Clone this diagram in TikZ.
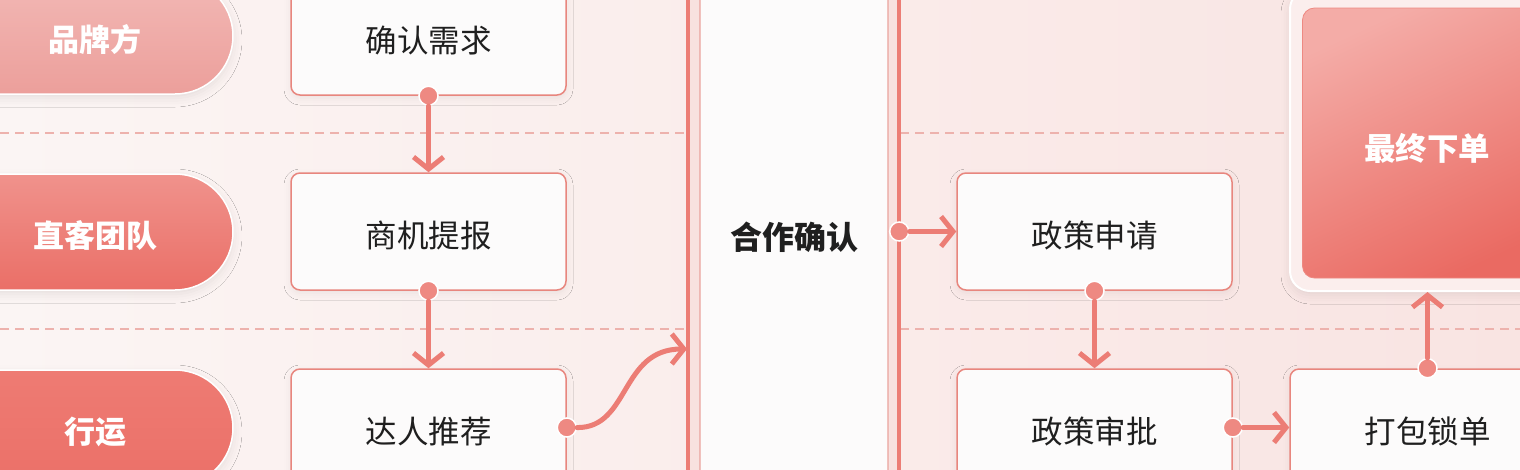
\documentclass[tikz,border=0pt]{standalone}
\usepackage{fontspec}
\setmainfont{Noto Sans CJK SC}
\usetikzlibrary{arrows.meta,shadows.blur,shapes.misc,calc}
\definecolor{bgl}{HTML}{FBF5F4}
\definecolor{bgr}{HTML}{F9E4E2}
\definecolor{boxc}{HTML}{E8867E}
\definecolor{boxc2}{HTML}{EAA29C}
\definecolor{boxf}{HTML}{FCFBFB}
\definecolor{txt}{HTML}{1F1F1F}
\definecolor{dotc}{HTML}{EE8982}
\definecolor{arrc}{HTML}{EC7D75}
\definecolor{sepc}{HTML}{EDB2AD}
\definecolor{framef}{HTML}{F8E1DF}
\definecolor{laneAt}{HTML}{F2B8B5}
\definecolor{laneAb}{HTML}{EC9F9B}
\definecolor{laneBt}{HTML}{F0928C}
\definecolor{laneBb}{HTML}{EA6F67}
\definecolor{laneCt}{HTML}{EE7B73}
\definecolor{laneCb}{HTML}{EB7068}
\definecolor{fint}{HTML}{F4ACA7}
\definecolor{finb}{HTML}{EA6A62}
\definecolor{fouter}{HTML}{FBEEED}
\newcommand{\lowtxt}[2][4pt]{\raisebox{-#1}[\height][\depth]{#2}}
\begin{document}
\begin{tikzpicture}[x=1pt,y=-1pt,
  box/.style={draw=boxc, line width=1.5pt, fill=boxf, rounded corners=9pt,
    minimum width=275pt, minimum height=117pt, inner sep=0pt,
    font=\fontsize{31.5}{36}\selectfont, text=txt,
    blur shadow={shadow xshift=0pt, shadow yshift=-3pt, shadow blur radius=7pt, shadow opacity=6}},
  lane/.style={rounded rectangle, rounded rectangle left arc=none,
    minimum width=274pt, minimum height=116pt, draw=white, line width=1.5pt,
    inner sep=0pt, text=white, font=\bfseries\fontsize{31}{36}\selectfont,
    blur shadow={shadow xshift=0pt, shadow yshift=-4pt, shadow blur radius=9pt, shadow opacity=9}},
  dot/.style={circle, fill=dotc, draw=white, line width=1.5pt, minimum size=19pt, inner sep=0pt},
  arr/.style={draw=arrc, line width=5pt, -{Straight Barb[length=12pt,width=30pt]},
    line cap=round, line join=round},
  lanesep/.style={draw=sepc, line width=1.1pt, dash pattern=on 9pt off 6pt}
]
\useasboundingbox (0,0) rectangle (1520,469);
\clip (0,0) rectangle (1520,469);
\shade[left color=bgl, right color=bgr] (0,0) rectangle (1520,469);

% lane separators
\draw[lanesep] (0,133) -- (1290,133);
\draw[lanesep] (0,329) -- (1520,329);

% lane labels
\node[lane, top color=laneAt, bottom color=laneAb] (L1) at (95,36) {\lowtxt{品牌方}};
\node[lane, top color=laneBt, bottom color=laneBb] (L2) at (95,232) {\lowtxt{直客团队}};
\node[lane, top color=laneCt, bottom color=laneCb] (L3) at (95,428) {\lowtxt{行运}};

% column 1
\node[box] (B1) at (428.5,36.5) {\lowtxt{确认需求}};
\node[box] (B2) at (428.5,231.5) {\lowtxt{商机提报}};
\node[box] (B3) at (428.5,427.5) {\lowtxt{达人推荐}};

% cooperation confirm
\node[fill=framef, minimum width=211pt, minimum height=540pt, inner sep=0pt] (CF) at (793.5,234) {};
\draw[line width=4.5pt, draw=arrc] (CF.north west) -- (CF.south west);
\draw[line width=4.5pt, draw=arrc] (CF.north east) -- (CF.south east);
\node[draw=boxc2, line width=1.2pt, fill=boxf, rounded corners=9pt, minimum width=188pt,
  minimum height=520pt, inner sep=0pt, text=txt, font=\bfseries\fontsize{32}{36}\selectfont] (C) at (794,233) {\lowtxt{合作确认}};
\coordinate (Cin) at (687,349);

% policy column
\node[box] (P1) at (1094.5,231.5) {\lowtxt{政策申请}};
\node[box] (P2) at (1094.5,427.5) {\lowtxt{政策审批}};

% final
\node[fill=fouter, draw=white, line width=2pt, rounded corners=20pt, minimum width=275pt,
  minimum height=302pt, inner sep=0pt,
  blur shadow={shadow xshift=0pt, shadow yshift=-4pt, shadow blur radius=9pt, shadow opacity=9}] (FO) at (1427.5,140) {};
\node[rounded corners=12pt, minimum width=249pt, minimum height=270pt, inner sep=0pt,
  top color=fint, bottom color=finb, shading angle=25, draw=dotc, line width=0.8pt, text=white,
  font=\bfseries\fontsize{31.5}{36}\selectfont] (F) at (1427,143) {\lowtxt[5pt]{最终下单}};
\node[box] (D) at (1427.5,427.5) {\lowtxt{打包锁单}};

% dots
\node[dot] (d1) at (B1.south) {};
\node[dot] (d2) at (B2.south) {};
\node[dot] (d3) at (B3.east) {};
\node[dot] (dc) at (CF.east |- P1.west) {};
\node[dot] (dp) at (P1.south) {};
\node[dot] (dq) at (P2.east) {};
\node[dot] (dd) at (D.north) {};

% arrows
\draw[arr] (d1) -- (B2.north);
\draw[arr] (d2) -- (B3.north);
\draw[arr] (d3) .. controls (630,428) and (620,349) .. (Cin);
\draw[arr] (dc) -- (P1.west);
\draw[arr] (dp) -- (P2.north);
\draw[arr] (dq) -- (D.west);
\draw[arr] (dd) -- (FO.south);
\end{tikzpicture}
\end{document}
